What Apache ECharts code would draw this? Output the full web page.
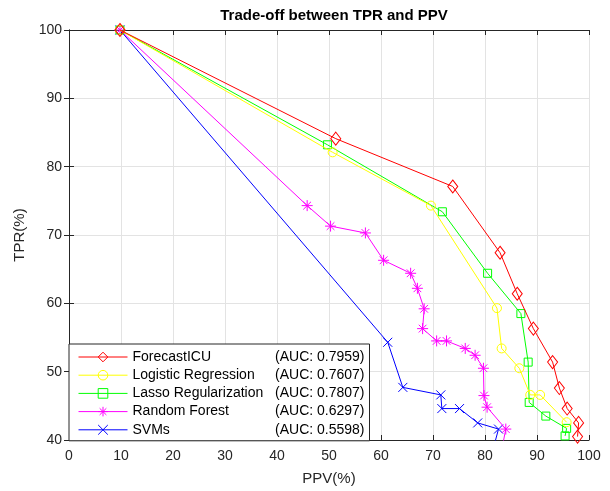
<!DOCTYPE html>
<html>
<head>
<meta charset="utf-8">
<script src="https://cdn.jsdelivr.net/npm/echarts@6/dist/echarts.min.js"></script>
<style>html,body{margin:0;padding:0;background:#fff}#chart{width:610px;height:491px}</style>
</head>
<body>
<div id="chart"></div>
<script>
// data
var names = ['ForecastICU', 'Logistic Regression', 'Lasso Regularization', 'Random Forest', 'SVMs'];
var aucs = ['(AUC: 0.7959)', '(AUC: 0.7607)', '(AUC: 0.7807)', '(AUC: 0.6297)', '(AUC: 0.5598)'];
var colors = ['#ff0000', '#ffff00', '#00ff00', '#ff00ff', '#0000ff'];

var forecastPPV = [9.8, 51.3, 73.8, 82.9, 86.2, 89.3, 93.0, 94.3, 95.8, 98.0, 97.8];
var forecastTPR = [100, 84.1, 77.1, 67.4, 61.4, 56.3, 51.4, 47.6, 44.6, 42.5, 40.5];

var logisticPPV = [9.8, 50.7, 69.6, 82.3, 83.2, 86.6, 88.7, 90.6, 95.7];
var logisticTPR = [100, 82.1, 74.3, 59.3, 53.4, 50.5, 46.6, 46.6, 42.6];

var lassoPPV = [9.8, 49.7, 71.8, 80.5, 86.9, 88.3, 88.5, 91.7, 95.7, 95.4];
var lassoTPR = [100, 83.2, 73.4, 64.4, 58.5, 51.4, 45.5, 43.5, 41.7, 40.6];

var forestPPV = [9.8, 45.8, 50.3, 57.0, 60.5, 65.7, 67.0, 68.3, 68.0, 70.7, 72.6, 76.2, 78.1, 79.7, 79.8, 80.4, 84.0, 83.2];
var forestTPR = [100, 74.3, 71.3, 70.3, 66.3, 64.4, 62.2, 59.2, 56.3, 54.5, 54.5, 53.4, 52.4, 50.5, 46.5, 44.8, 41.6, 38.5];

var svmPPV = [9.8, 61.3, 64.2, 71.5, 71.7, 75.1, 78.6, 82.6, 81.6];
var svmTPR = [100, 54.3, 47.7, 46.6, 44.6, 44.6, 42.5, 41.6, 38.8];

var xTicks = [0, 10, 20, 30, 40, 50, 60, 70, 80, 90, 100];
var yTicks = [40, 50, 60, 70, 80, 90, 100];

var symbols = [
    'path://M5,0 L10,7 L5,14 L0,7 Z',
    'circle',
    'rect',
    'path://M0,5 L10,5 M5,0 L5,10 M1.5,1.5 L8.5,8.5 M1.5,8.5 L8.5,1.5',
    'path://M0,0 L10,10 M0,10 L10,0'
];
var sizes = [[10, 13], 9, 8, 11, 9];

function pairs(xs, ys) {
    return xs.map(function (v, i) { return [v, ys[i]]; });
}
var allData = [
    pairs(forecastPPV, forecastTPR),
    pairs(logisticPPV, logisticTPR),
    pairs(lassoPPV, lassoTPR),
    pairs(forestPPV, forestTPR),
    pairs(svmPPV, svmTPR)
];

var font = 'Liberation Sans, Arial, sans-serif';
var axisColor = '#262626';

var series = names.map(function (n, i) {
    return {
        name: n,
        type: 'line',
        data: allData[i],
        symbol: symbols[i],
        symbolSize: sizes[i],
        showAllSymbol: true,
        clip: true,
        lineStyle: { color: colors[i], width: 1 },
        itemStyle: { color: 'rgba(0,0,0,0)', borderColor: colors[i], borderWidth: 1 },
        emphasis: { disabled: true },
        z: 10 - i
    };
});

var myChart = echarts.init(document.getElementById('chart'));
var option = {
    animation: false,
    title: {
        text: 'Trade-off between TPR and PPV',
        left: 329,
        textAlign: 'center',
        top: 3,
        textStyle: { fontFamily: font, fontSize: 15, fontWeight: 'bold', color: '#000' }
    },
    legend: {
        orient: 'vertical',
        left: 69,
        top: 344,
        padding: [6, 5, 4, 9],
        itemWidth: 49,
        itemHeight: 12,
        itemGap: 4.2,
        backgroundColor: '#fff',
        borderColor: axisColor,
        borderWidth: 1,
        borderRadius: 0,
        lineStyle: { width: 1 },
        itemStyle: { borderWidth: 1 },
        data: names,
        formatter: function (n) {
            return '{a|' + n + '}{b|' + aucs[names.indexOf(n)] + '}';
        },
        textStyle: {
            fontFamily: font,
            fontSize: 14,
            color: '#000',
            rich: {
                a: { width: 140, fontFamily: font, fontSize: 14, color: '#000' },
                b: { width: 92, align: 'right', fontFamily: font, fontSize: 14, color: '#000' }
            }
        }
    },
    grid: { left: 69, right: 21, top: 30, bottom: 50 },
    xAxis: [{
        type: 'value', min: 0, max: 100, interval: 10,
        name: 'PPV(%)', nameLocation: 'middle', nameGap: 31,
        nameTextStyle: { fontFamily: font, fontSize: 15, color: '#262626' },
        axisLine: { lineStyle: { color: axisColor, width: 1 } },
        axisTick: { inside: true, length: 5, lineStyle: { color: axisColor } },
        axisLabel: { margin: 9, fontFamily: font, fontSize: 14, color: '#262626' },
        splitLine: { show: true, lineStyle: { color: '#e3e3e3', width: 1 } }
    }, {
        type: 'value', min: 0, max: 100, interval: 10, position: 'top',
        axisLine: { show: true, lineStyle: { color: axisColor, width: 1 } },
        axisTick: { show: true, inside: true, length: 5, lineStyle: { color: axisColor } },
        axisLabel: { show: false },
        splitLine: { show: false }
    }],
    yAxis: [{
        type: 'value', min: 40, max: 100, interval: 10,
        name: 'TPR(%)', nameLocation: 'middle', nameGap: 39,
        nameTextStyle: { fontFamily: font, fontSize: 15, color: '#262626' },
        axisLine: { show: true, lineStyle: { color: axisColor, width: 1 } },
        axisTick: { show: true, inside: true, length: 5, lineStyle: { color: axisColor } },
        axisLabel: { margin: 7, fontFamily: font, fontSize: 14, color: '#262626' },
        splitLine: { show: true, lineStyle: { color: '#e3e3e3', width: 1 } }
    }, {
        type: 'value', min: 40, max: 100, interval: 10, position: 'right',
        axisLine: { show: true, lineStyle: { color: axisColor, width: 1 } },
        axisTick: { show: true, inside: true, length: 5, lineStyle: { color: axisColor } },
        axisLabel: { show: false },
        splitLine: { show: false }
    }],
    series: series
};
myChart.setOption(option, true);
</script>
</body>
</html>
